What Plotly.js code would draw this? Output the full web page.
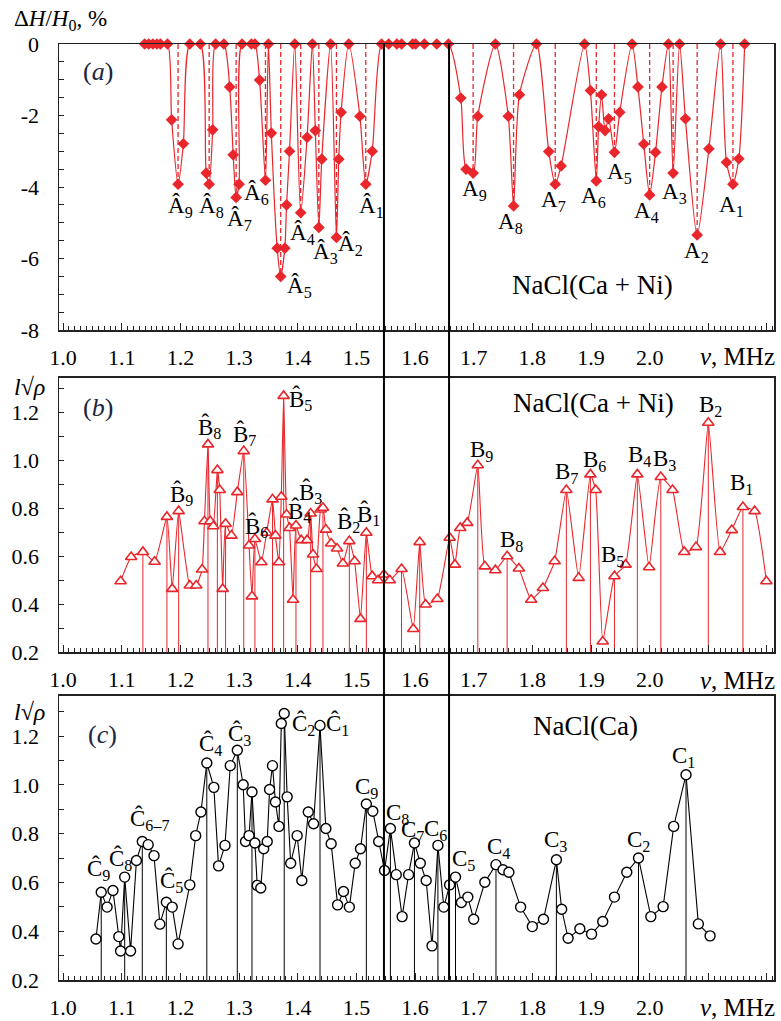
<!DOCTYPE html>
<html><head><meta charset="utf-8">
<script src="https://cdn.plot.ly/plotly-3.0.1.min.js"></script>
<style>body{margin:0;background:#fff}#g{width:781px;height:1021px}
#g text{font-family:"Liberation Serif","Times New Roman","DejaVu Serif",serif !important;}</style>
</head><body><div id="g"></div>
<script>
// ---- data: panel (a) ΔH/H0, % vs ν (MHz), NaCl(Ca+Ni)
const aNu = [1.139,1.146,1.153,1.160,1.166,1.178,1.185,1.196,1.205,1.216,1.234,1.244,1.249,1.255,1.260,1.274,1.284,1.290,1.295,1.300,1.305,1.321,1.327,1.335,1.345,1.350,1.355,1.365,1.371,1.378,1.381,1.386,1.395,1.405,1.416,1.425,1.430,1.436,1.441,1.456,1.466,1.470,1.474,1.487,1.506,1.516,1.527,1.543,1.555,1.569,1.577,1.596,1.601,1.616,1.637,1.657,1.678,1.687,1.699,1.707,1.737,1.759,1.768,1.778,1.807,1.828,1.839,1.849,1.889,1.899,1.909,1.913,1.918,1.924,1.930,1.940,1.949,1.970,1.980,1.990,2.000,2.010,2.021,2.032,2.040,2.051,2.061,2.081,2.101,2.121,2.131,2.142,2.152,2.162];
const aDH = [0,0,0,0,0,0,-2.12,-3.92,-2.79,0,0,-3.61,-3.92,-2.40,0,0,-1.20,-3.10,-4.29,-3.92,0,0,0,-1.01,-3.81,0,-2.49,-5.71,-6.50,-5.71,-4.50,-3.00,0,-4.72,-2.61,0,-2.42,-5.13,-3.22,0,-5.41,-3.22,-1.91,0,-2.02,-3.92,-3.00,0,0,0,0,0,0,0,0,0,-1.51,-3.50,-3.61,-2.02,0,-2.02,-4.53,-1.42,0,-3.01,-3.92,-3.41,0,-1.30,-3.83,-2.31,-1.42,-2.42,-2.09,-3.03,-1.91,0,-1.20,-2.80,-4.22,-3.03,-1.20,0,-3.61,0,-2.09,-5.34,-2.93,0,-3.31,-3.92,-3.21,0];
// resonance lines (dashed) in (a)
const aPeakNu = [1.196,1.249,1.295,1.345,1.371,1.405,1.436,1.466,1.516,1.699,1.768,1.839,1.909,1.940,2.000,2.040,2.081,2.142];
const aPeakDH = [-3.92,-3.92,-4.29,-3.81,-6.50,-4.72,-5.13,-5.41,-3.92,-3.61,-4.53,-3.92,-3.83,-3.03,-4.22,-3.61,-5.34,-3.92];
const aLabText = ['Â<sub>9</sub>','Â<sub>8</sub>','Â<sub>7</sub>','Â<sub>6</sub>','Â<sub>5</sub>','Â<sub>4</sub>','Â<sub>3</sub>','Â<sub>2</sub>','Â<sub>1</sub>','A<sub>9</sub>','A<sub>8</sub>','A<sub>7</sub>','A<sub>6</sub>','A<sub>5</sub>','A<sub>4</sub>','A<sub>3</sub>','A<sub>2</sub>','A<sub>1</sub>'];
const aLabNu = [1.200,1.253,1.300,1.329,1.403,1.408,1.447,1.490,1.526,1.702,1.762,1.836,1.904,1.948,1.995,2.042,2.080,2.140];
const aLabDH = [-4.55,-4.55,-4.92,-4.19,-6.79,-5.30,-5.85,-5.62,-4.55,-4.08,-5.01,-4.38,-4.27,-3.61,-4.69,-4.16,-5.81,-4.53];

// ---- panel (b) l√ρ, NaCl(Ca+Ni)
const bNu = [1.098,1.116,1.136,1.156,1.177,1.186,1.197,1.216,1.227,1.237,1.241,1.247,1.251,1.256,1.263,1.267,1.272,1.277,1.287,1.297,1.308,1.317,1.322,1.327,1.338,1.347,1.357,1.362,1.368,1.372,1.376,1.381,1.386,1.392,1.397,1.406,1.416,1.422,1.426,1.432,1.439,1.443,1.448,1.457,1.467,1.477,1.488,1.497,1.507,1.517,1.527,1.537,1.547,1.557,1.577,1.597,1.608,1.618,1.638,1.659,1.668,1.677,1.689,1.707,1.719,1.737,1.757,1.777,1.798,1.818,1.838,1.858,1.879,1.899,1.908,1.920,1.940,1.959,1.979,1.999,2.019,2.039,2.059,2.079,2.100,2.120,2.140,2.159,2.179,2.199];
const bL = [0.495,0.596,0.617,0.576,0.763,0.463,0.787,0.477,0.477,0.544,0.745,1.065,0.745,0.724,0.958,0.875,0.463,0.734,0.685,0.866,1.037,0.644,0.432,0.671,0.574,0.697,0.836,0.685,0.574,0.847,1.267,0.773,0.717,0.418,0.727,0.666,0.666,0.777,0.606,0.546,0.794,0.801,0.710,0.652,0.631,0.569,0.662,0.578,0.338,0.697,0.516,0.499,0.523,0.499,0.546,0.296,0.658,0.398,0.421,0.676,0.564,0.717,0.738,0.978,0.557,0.541,0.599,0.548,0.418,0.467,0.578,0.875,0.509,0.940,0.875,0.244,0.516,0.564,0.940,0.553,0.929,0.875,0.617,0.637,1.155,0.617,0.708,0.804,0.787,0.495];
const bStemNu = [1.136,1.177,1.197,1.247,1.263,1.277,1.308,1.327,1.357,1.376,1.397,1.422,1.443,1.488,1.517,1.577,1.608,1.707,1.757,1.858,1.899,1.940,1.979,2.019,2.100,2.159];
const bLabText = ['B̂<sub>9</sub>','B̂<sub>8</sub>','B̂<sub>7</sub>','B̂<sub>6</sub>','B̂<sub>5</sub>','B̂<sub>4</sub>','B̂<sub>3</sub>','B̂<sub>2</sub>','B̂<sub>1</sub>','B<sub>9</sub>','B<sub>8</sub>','B<sub>7</sub>','B<sub>6</sub>','B<sub>5</sub>','B<sub>4</sub>','B<sub>3</sub>','B<sub>2</sub>','B<sub>1</sub>'];
const bLabNu = [1.202,1.250,1.310,1.329,1.405,1.403,1.421,1.486,1.521,1.713,1.764,1.858,1.906,1.936,1.982,2.026,2.103,2.156];
const bLabL = [0.856,1.135,1.107,0.724,1.253,0.784,0.863,0.745,0.773,1.037,0.662,0.947,0.996,0.599,1.016,1.000,1.225,0.901];

// ---- panel (c) l√ρ, NaCl(Ca)
const cNu = [1.056,1.065,1.075,1.085,1.095,1.098,1.105,1.115,1.125,1.135,1.145,1.155,1.165,1.176,1.186,1.196,1.216,1.226,1.235,1.245,1.257,1.265,1.276,1.285,1.297,1.307,1.311,1.317,1.322,1.327,1.331,1.337,1.342,1.348,1.352,1.357,1.362,1.368,1.372,1.377,1.382,1.388,1.399,1.407,1.418,1.427,1.438,1.448,1.457,1.468,1.478,1.488,1.498,1.507,1.517,1.528,1.538,1.548,1.558,1.568,1.578,1.589,1.599,1.609,1.619,1.629,1.639,1.649,1.659,1.669,1.679,1.690,1.700,1.719,1.738,1.750,1.760,1.780,1.800,1.819,1.841,1.850,1.861,1.881,1.901,1.920,1.940,1.961,1.981,2.002,2.023,2.041,2.062,2.083,2.103];
const cL = [0.368,0.560,0.499,0.567,0.378,0.319,0.622,0.319,0.690,0.768,0.755,0.710,0.429,0.519,0.499,0.348,0.590,0.792,0.889,1.090,0.990,0.668,0.752,1.079,1.142,1.001,0.768,0.792,0.971,0.762,0.588,0.577,0.738,0.768,0.981,1.079,0.930,0.830,1.252,1.293,0.951,0.679,0.792,0.608,0.889,0.841,1.244,0.821,0.759,0.508,0.563,0.499,0.679,0.738,0.922,0.892,0.768,0.649,0.821,0.632,0.460,0.632,0.762,0.679,0.608,0.340,0.752,0.499,0.590,0.622,0.518,0.540,0.449,0.601,0.673,0.652,0.642,0.499,0.419,0.449,0.693,0.490,0.371,0.410,0.388,0.440,0.540,0.642,0.700,0.460,0.501,0.830,1.042,0.430,0.381];
const cStemNu = [1.065,1.105,1.135,1.176,1.245,1.297,1.322,1.377,1.438,1.517,1.558,1.599,1.639,1.669,1.738,1.841,1.981,2.062];
const cLabText = ['Ĉ<sub>9</sub>','Ĉ<sub>8</sub>','Ĉ<sub>6–7</sub>','Ĉ<sub>5</sub>','Ĉ<sub>4</sub>','Ĉ<sub>3</sub>','Ĉ<sub>2</sub>','Ĉ<sub>1</sub>','C<sub>9</sub>','C<sub>8</sub>','C<sub>7</sub>','C<sub>6</sub>','C<sub>5</sub>','C<sub>4</sub>','C<sub>3</sub>','C<sub>2</sub>','C<sub>1</sub>'];
const cLabNu = [1.060,1.098,1.147,1.185,1.251,1.301,1.409,1.467,1.518,1.570,1.596,1.635,1.683,1.742,1.840,1.981,2.058];
const cLabL = [0.652,0.696,0.858,0.604,1.166,1.207,1.248,1.248,0.988,0.882,0.810,0.816,0.693,0.741,0.768,0.768,1.115];

const xTicks = [1.0,1.1,1.2,1.3,1.4,1.5,1.6,1.7,1.8,1.9,2.0,2.1,2.2];
const xTickText = ['1.0','1.1','1.2','1.3','1.4','1.5','1.6','1.7','1.8','1.9','2.0','',''];
const boundaryNu = [1.547,1.658];

// ---- build
const red = '#e8262b';
const FONT = 'Liberation Serif';
function stems(xs, srcX, srcY, base){
  const X=[],Y=[];
  xs.forEach(v=>{const i=srcX.indexOf(v); X.push(v,v,null); Y.push(base, srcY[i], null);});
  return {X,Y};
}
const dA = {X:[],Y:[]};
aPeakNu.forEach((v,i)=>{dA.X.push(v,v,null); dA.Y.push(0,aPeakDH[i],null);});
const sB = stems(bStemNu,bNu,bL,0.2);
const sC = stems(cStemNu,cNu,cL,0.2);

const traces = [
  {x:dA.X,y:dA.Y,xaxis:'x',yaxis:'y',mode:'lines',line:{color:red,width:1.3,dash:'5px,3px'},hoverinfo:'skip'},
  {x:aNu,y:aDH,xaxis:'x',yaxis:'y',mode:'lines+markers',line:{color:red,width:1.2,shape:'spline',smoothing:0.7},
   marker:{symbol:'diamond',size:9,color:red},cliponaxis:false},
  {x:sB.X,y:sB.Y,xaxis:'x2',yaxis:'y2',mode:'lines',line:{color:red,width:1},hoverinfo:'skip'},
  {x:bNu,y:bL,xaxis:'x2',yaxis:'y2',mode:'lines+markers',line:{color:red,width:1.1,shape:'spline',smoothing:0.4},
   marker:{symbol:'triangle-up',size:10,color:'white',line:{color:red,width:1.6}},cliponaxis:false},
  {x:sC.X,y:sC.Y,xaxis:'x3',yaxis:'y3',mode:'lines',line:{color:'black',width:1},hoverinfo:'skip'},
  {x:cNu,y:cL,xaxis:'x3',yaxis:'y3',mode:'lines+markers',line:{color:'black',width:1.1},
   marker:{symbol:'circle',size:10,color:'white',line:{color:'black',width:1.4}},cliponaxis:false}
];

function xax(anchor){
  return {anchor:anchor,domain:[0,1],range:[0.993,2.212],tickmode:'array',tickvals:xTicks,ticktext:xTickText,
    ticks:'inside',ticklen:7,tickwidth:1,tickcolor:'#222',showline:true,mirror:true,linecolor:'#222',linewidth:1.5,
    showgrid:false,zeroline:false,ticklabelstandoff:7,tickfont:{family:FONT,size:22,color:'black'},
    minor:{dtick:0.01,tick0:1.0,ticks:'inside',ticklen:4,tickwidth:1,tickcolor:'#222',showgrid:false}};
}
function yax(anchor,dom,rng,tv,tt,mdt){
  return {anchor:anchor,domain:dom,range:rng,tickmode:'array',tickvals:tv,ticktext:tt,ticks:'inside',ticklen:5,
    tickwidth:1,tickcolor:'#222',showline:true,mirror:true,linecolor:'#222',linewidth:1.5,showgrid:false,zeroline:false,
    ticklabelstandoff:14,tickfont:{family:FONT,size:22,color:'black'},
    minor:{dtick:mdt,ticks:'inside',ticklen:5,tickwidth:1,tickcolor:'#222',showgrid:false}};
}
const ann = [];
function lab(t,x,y,xr,yr,size){ann.push({text:t,x:x,y:y,xref:xr,yref:yr,xanchor:'center',yanchor:'middle',showarrow:false,font:{family:FONT,size:size||23,color:'black'}});}
function plab(t,x,y,size,xa){ann.push({text:t,x:x,y:y,xref:'paper',yref:'paper',xanchor:xa||'center',yanchor:'middle',showarrow:false,font:{family:FONT,size:size,color:'black'}});}
aLabText.forEach((t,i)=>lab(t,aLabNu[i],aLabDH[i],'x','y'));
bLabText.forEach((t,i)=>lab(t,bLabNu[i],bLabL[i],'x2','y2'));
cLabText.forEach((t,i)=>lab(t,cLabNu[i],cLabL[i],'x3','y3'));
lab('NaCl(Ca + Ni)',1.903,-6.74,'x','y',27);
lab('NaCl(Ca + Ni)',1.904,1.236,'x2','y2',27);
lab('NaCl(Ca)',1.89,1.241,'x3','y3',27);
ann.push({text:'(<i>a</i>)',x:1.059,y:-0.77,xref:'x',yref:'y',showarrow:false,font:{family:FONT,size:26,color:'#1c2440'}});
ann.push({text:'(<i>b</i>)',x:1.06,y:1.218,xref:'x2',yref:'y2',showarrow:false,font:{family:FONT,size:26,color:'#1c2440'}});
ann.push({text:'(<i>c</i>)',x:1.068,y:1.207,xref:'x3',yref:'y3',showarrow:false,font:{family:FONT,size:26,color:'#1c2440'}});
[0.6656,0.3205,-0.0299].forEach(y=>plab('<i>ν</i>, MHz',1.004,y,25,'right'));
plab('Δ<i>H</i>/<i>H</i><sub>0</sub>, %',0.0014,1.0256,23);
plab('<i>l</i>√<i>ρ</i>',-0.041,0.6335,24);
plab('<i>l</i>√<i>ρ</i>',-0.041,0.2865,24);

const shapes = boundaryNu.map(v=>({type:'line',xref:'x',yref:'paper',x0:v,x1:v,y0:0,y1:1,line:{color:'black',width:2}}));

const layout = {
  width:781,height:1021,margin:{l:59,r:7,t:44,b:41},paper_bgcolor:'white',plot_bgcolor:'white',showlegend:false,
  font:{family:FONT},
  xaxis:xax('y'),xaxis2:xax('y2'),xaxis3:xax('y3'),
  yaxis:yax('x',[0.6944,1],[-8,0],[0,-2,-4,-6,-8],['0','-2','-4','-6','-8'],0.5),
  yaxis2:yax('x2',[0.3504,0.6435],[0.2,1.343],[0.2,0.4,0.6,0.8,1.0,1.2],['0.2','0.4','0.6','0.8','1.0','1.2'],0.1),
  yaxis3:yax('x3',[0,0.3035],[0.2,1.365],[0.2,0.4,0.6,0.8,1.0,1.2],['0.2','0.4','0.6','0.8','1.0','1.2'],0.1),
  annotations:ann,shapes:shapes
};
Plotly.newPlot('g',traces,layout,{staticPlot:true});
</script></body></html>
